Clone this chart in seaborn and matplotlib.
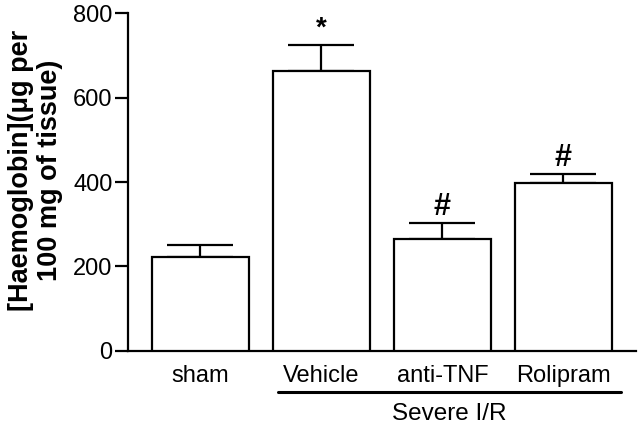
import numpy as np
import pandas as pd
import matplotlib
matplotlib.use('Agg')
import matplotlib.pyplot as plt
import matplotlib.transforms as mtrans
import seaborn as sns

# data
groups = ['sham', 'Vehicle', 'anti-TNF', 'Rolipram']
haemoglobin = [221, 664, 264, 398]
sem = [29, 62, 38, 20]
marks = ['', '*', '#', '#']

df = pd.DataFrame({'group': groups, 'hb': haemoglobin})

sns.set_style('ticks')
plt.rcParams['font.family'] = ['Liberation Sans', 'DejaVu Sans']
for k in ['text.color', 'axes.labelcolor', 'xtick.color', 'ytick.color', 'axes.edgecolor']:
    plt.rcParams[k] = 'black'

fig = plt.figure(figsize=(6.4, 4.29), dpi=100)
ax = fig.add_axes([0.2, 0.1825, 0.794, 0.7865])

sns.barplot(data=df, x='group', y='hb', color='white', edgecolor='black',
            linewidth=1.6, width=0.8, saturation=1, ax=ax, zorder=3)
ax.errorbar(np.arange(len(groups)), haemoglobin,
            yerr=[np.zeros(len(sem)), sem], fmt='none', ecolor='black',
            elinewidth=1.6, capsize=24, capthick=1.6, zorder=2)

for i, m in enumerate(marks):
    if m:
        ax.text(i, haemoglobin[i] + sem[i] + 38, m, ha='center', va='center',
                fontsize=22 if m == '#' else 20, fontweight='bold')

ax.set_ylim(0, 800)
ax.set_xlim(-0.595, 3.6)
ax.set_yticks([0, 200, 400, 600, 800])
ax.set_xlabel('')
ax.set_ylabel('[Haemoglobin](μg per\n100 mg of tissue)', fontsize=19.5,
              fontweight='bold', linespacing=1.15)
ax.yaxis.set_label_coords(-0.128, 0.535)
ax.tick_params(axis='y', length=9.5, width=1.6, pad=1.5, labelsize=17)
ax.tick_params(axis='x', length=0, pad=10, labelsize=17)
for s in ['left', 'bottom']:
    ax.spines[s].set_linewidth(1.6)
sns.despine(ax=ax)

# Severe I/R bracket below the x labels
tr = mtrans.blended_transform_factory(ax.transData, ax.transAxes)
ax.plot([0.645, 3.477], [-0.1215, -0.1215], color='black', lw=2.2,
        transform=tr, clip_on=False)
ax.text(2.06, -0.188, 'Severe I/R', transform=tr, ha='center', va='center',
        fontsize=17.5)

fig.savefig('out.png', dpi=100)
